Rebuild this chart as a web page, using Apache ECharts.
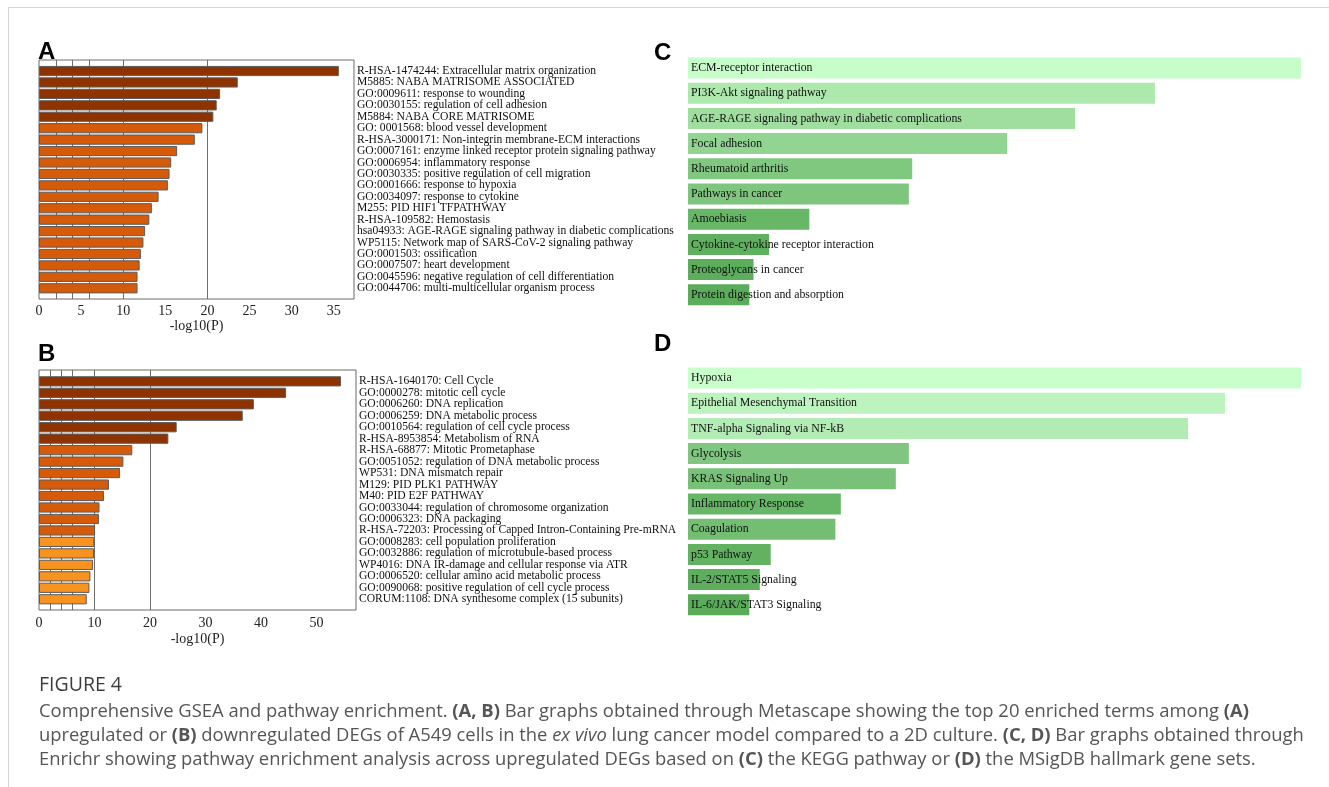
<!DOCTYPE html>
<html>
<head>
<meta charset="utf-8">
<title>Figure 4</title>
<script src="https://cdn.jsdelivr.net/npm/echarts@6.0.0/dist/echarts.min.js"></script>
<style>
  html, body { margin: 0; padding: 0; background: #fff; }
  #chart { width: 1329px; height: 787px; }
</style>
</head>
<body>
<div id="chart"></div>
<script>
// A: Metascape, upregulated DEGs
const termsA = [
  "R-HSA-1474244: Extracellular matrix organization",
  "M5885: NABA MATRISOME ASSOCIATED",
  "GO:0009611: response to wounding",
  "GO:0030155: regulation of cell adhesion",
  "M5884: NABA CORE MATRISOME",
  "GO: 0001568: blood vessel development",
  "R-HSA-3000171: Non-integrin membrane-ECM interactions",
  "GO:0007161: enzyme linked receptor protein signaling pathway",
  "GO:0006954: inflammatory response",
  "GO:0030335: positive regulation of cell migration",
  "GO:0001666: response to hypoxia",
  "GO:0034097: response to cytokine",
  "M255: PID HIF1 TFPATHWAY",
  "R-HSA-109582: Hemostasis",
  "hsa04933: AGE-RAGE signaling pathway in diabetic complications",
  "WP5115: Network map of SARS-CoV-2 signaling pathway",
  "GO:0001503: ossification",
  "GO:0007507: heart development",
  "GO:0045596: negative regulation of cell differentiation",
  "GO:0044706: multi-multicellular organism process"
];
const valuesA = [35.6, 23.6, 21.5, 21.1, 20.7, 19.4, 18.5, 16.4, 15.7, 15.5,
                 15.3, 14.2, 13.4, 13.1, 12.6, 12.4, 12.1, 11.95, 11.7, 11.7];
const ticksA = [0, 5, 10, 15, 20, 25, 30, 35];

// B: Metascape, downregulated DEGs
const termsB = [
  "R-HSA-1640170: Cell Cycle",
  "GO:0000278: mitotic cell cycle",
  "GO:0006260: DNA replication",
  "GO:0006259: DNA metabolic process",
  "GO:0010564: regulation of cell cycle process",
  "R-HSA-8953854: Metabolism of RNA",
  "R-HSA-68877: Mitotic Prometaphase",
  "GO:0051052: regulation of DNA metabolic process",
  "WP531: DNA mismatch repair",
  "M129: PID PLK1 PATHWAY",
  "M40: PID E2F PATHWAY",
  "GO:0033044: regulation of chromosome organization",
  "GO:0006323: DNA packaging",
  "R-HSA-72203: Processing of Capped Intron-Containing Pre-mRNA",
  "GO:0008283: cell population proliferation",
  "GO:0032886: regulation of microtubule-based process",
  "WP4016: DNA IR-damage and cellular response via ATR",
  "GO:0006520: cellular amino acid metabolic process",
  "GO:0090068: positive regulation of cell cycle process",
  "CORUM:1108: DNA synthesome complex (15 subunits)"
];
const valuesB = [54.4, 44.5, 38.7, 36.7, 24.8, 23.3, 16.8, 15.2, 14.6, 12.6,
                 11.7, 10.9, 10.8, 10.1, 9.95, 9.9, 9.74, 9.26, 9.08, 8.6];
const ticksB = [0, 10, 20, 30, 40, 50];

// -log10(P) cut-off lines drawn in both Metascape panels
const cutoffs = [2, 4, 6, 10, 20];

// C: Enrichr KEGG
const termsC = [
  "ECM-receptor interaction",
  "PI3K-Akt signaling pathway",
  "AGE-RAGE signaling pathway in diabetic complications",
  "Focal adhesion",
  "Rheumatoid arthritis",
  "Pathways in cancer",
  "Amoebiasis",
  "Cytokine-cytokine receptor interaction",
  "Proteoglycans in cancer",
  "Protein digestion and absorption"
];
const valuesC = [14.6, 11.12, 9.22, 7.6, 5.34, 5.26, 2.89, 1.93, 1.56, 1.46];

// D: Enrichr MSigDB hallmark
const termsD = [
  "Hypoxia",
  "Epithelial Mesenchymal Transition",
  "TNF-alpha Signaling via NF-kB",
  "Glycolysis",
  "KRAS Signaling Up",
  "Inflammatory Response",
  "Coagulation",
  "p53 Pathway",
  "IL-2/STAT5 Signaling",
  "IL-6/JAK/STAT3 Signaling"
];
const valuesD = [14.6, 12.79, 11.91, 5.26, 4.95, 3.64, 3.51, 1.97, 1.71, 1.46];

// bar colours (style only)
const greensC = ["#c7fdc9", "#ade8ad", "#a0dea0", "#92d492", "#80c880",
                 "#7ec67e", "#67b767", "#5fb15f", "#5cae5c", "#5bad5b"];
const greensD = ["#c8ffca", "#bdf3be", "#b3ebb4", "#80c680", "#79c179",
                 "#68b768", "#74be74", "#62b262", "#5daf5d", "#5aac5a"];

const SERIF = "Liberation Serif, Times New Roman, serif";

function metaColor(v) {
  if (v >= 20) return "#8e3300";
  if (v >= 10) return "#d55a0a";
  return "#f7931e";
}

let chart = echarts.init(document.getElementById("chart"), null, { renderer: "canvas" });

function frameGrid(left, top, width, height) {
  return { left: left, top: top, width: width, height: height, show: true,
           borderColor: "#6b6b6b", borderWidth: 1, backgroundColor: "transparent" };
}

function frameXAxis(grid, max, ticks, gap, margin) {
  return {
    type: "value", gridIndex: grid, min: 0, max: max, z: 0,
    axisLine: { show: false },
    axisTick: { show: false, customValues: cutoffs },
    splitLine: { show: true, lineStyle: { color: "#6e6e6e", width: 1 } },
    axisLabel: { customValues: ticks, margin: margin, fontFamily: SERIF, fontSize: 14, color: "#222" },
    name: "-log10(P)", nameLocation: "middle", nameGap: gap,
    nameTextStyle: { fontFamily: SERIF, fontSize: 14, color: "#222" }
  };
}

function hiddenX(grid, max) {
  return { type: "value", gridIndex: grid, min: 0, max: max, show: false };
}

function termYAxis(grid, terms) {
  return {
    type: "category", gridIndex: grid, data: terms, inverse: true, position: "right",
    axisLine: { show: false }, axisTick: { show: false },
    axisLabel: { interval: 0, align: "left", margin: 3, fontFamily: SERIF, fontSize: 11.6, color: "#111" }
  };
}

function metaSeries(axis, values) {
  return {
    type: "bar", xAxisIndex: axis, yAxisIndex: axis, barWidth: 10.2, z: 10,
    data: values.map(v => ({ value: v, itemStyle: { color: metaColor(v) } })),
    itemStyle: { borderColor: "#5c5c5c", borderWidth: 1 }
  };
}

function enrichrSeries(axis, values, colors) {
  return {
    type: "bar", xAxisIndex: axis, yAxisIndex: axis, barWidth: 21,
    data: values.map((v, i) => ({ value: v, itemStyle: { color: colors[i] } })),
    label: {
      show: true, position: "insideLeft", distance: 3, formatter: "{b}",
      fontFamily: SERIF, fontSize: 11.8, color: "#111"
    }
  };
}

function panelLetter(ch, x, y) {
  return { type: "text", left: x, top: y,
           style: { text: ch, fontFamily: "Liberation Sans, Arial, sans-serif",
                    fontWeight: "bold", fontSize: 24, fill: "#000" } };
}

// caption lines: [style, text] pieces
const capFont = "Open Sans, Noto Sans, sans-serif";
const capSize = 18.4;
const capRich = {
  n: { fontFamily: capFont, fontSize: capSize, color: "#555" },
  b: { fontFamily: capFont, fontSize: capSize, color: "#444", fontWeight: "bold" },
  i: { fontFamily: capFont, fontSize: capSize, color: "#555", fontStyle: "italic" }
};
const captionLines = [
  [["n", "Comprehensive GSEA and pathway enrichment. "], ["b", "(A, B)"],
   ["n", " Bar graphs obtained through Metascape showing the top 20 enriched terms among "], ["b", "(A)"]],
  [["n", "upregulated or "], ["b", "(B)"], ["n", " downregulated DEGs of A549 cells in the "], ["i", "ex vivo"],
   ["n", " lung cancer model compared to a 2D culture. "], ["b", "(C, D)"], ["n", " Bar graphs obtained through"]],
  [["n", "Enrichr showing pathway enrichment analysis across upregulated DEGs based on "], ["b", "(C)"],
   ["n", " the KEGG pathway or "], ["b", "(D)"], ["n", " the MSigDB hallmark gene sets."]]
];

const graphics = [
  { type: "line", shape: { x1: 8.5, y1: 7.5, x2: 1329, y2: 7.5 }, style: { stroke: "#d4d4d4", lineWidth: 1 } },
  { type: "line", shape: { x1: 8.5, y1: 7.5, x2: 8.5, y2: 787 }, style: { stroke: "#d4d4d4", lineWidth: 1 } },
  panelLetter("A", 38, 40),
  panelLetter("B", 38, 342),
  panelLetter("C", 654, 41),
  panelLetter("D", 654, 332),
  { type: "text", x: 39, y: 685,
    style: { text: "FIGURE 4", fontFamily: capFont, fontSize: 19.5, fill: "#3d3d3d", verticalAlign: "middle" } }
];
captionLines.forEach((line, i) => {
  graphics.push({
    type: "text", x: 39, y: 712 + i * 24,
    style: {
      text: line.map(p => "{" + p[0] + "|" + p[1] + "}").join(""),
      rich: capRich, fontFamily: capFont, fontSize: capSize, fill: "#555", verticalAlign: "middle"
    }
  });
});

chart.setOption({
  animation: false,
  backgroundColor: "#fff",
  grid: [
    frameGrid(39, 60, 315, 239),
    { left: 39, top: 65.3, width: 315, height: 228.7 },
    frameGrid(39, 370, 317, 240),
    { left: 39, top: 375.6, width: 317, height: 229.4 },
    { left: 688, top: 55.4, width: 613, height: 252 },
    { left: 688, top: 365.4, width: 613, height: 252 }
  ],
  xAxis: [
    frameXAxis(0, 37.4, ticksA, 17, 5),
    hiddenX(1, 37.4),
    frameXAxis(2, 57.1, ticksB, 22, 6),
    hiddenX(3, 57.1),
    { type: "value", gridIndex: 4, min: 0, max: "dataMax", show: false },
    { type: "value", gridIndex: 5, min: 0, max: "dataMax", show: false }
  ],
  yAxis: [
    { type: "value", gridIndex: 0, min: 0, max: 1, show: false },
    termYAxis(1, termsA),
    { type: "value", gridIndex: 2, min: 0, max: 1, show: false },
    termYAxis(3, termsB),
    { type: "category", gridIndex: 4, data: termsC, inverse: true, show: false },
    { type: "category", gridIndex: 5, data: termsD, inverse: true, show: false }
  ],
  series: [
    metaSeries(1, valuesA),
    metaSeries(3, valuesB),
    enrichrSeries(4, valuesC, greensC),
    enrichrSeries(5, valuesD, greensD)
  ],
  graphic: graphics
});
</script>
</body>
</html>
